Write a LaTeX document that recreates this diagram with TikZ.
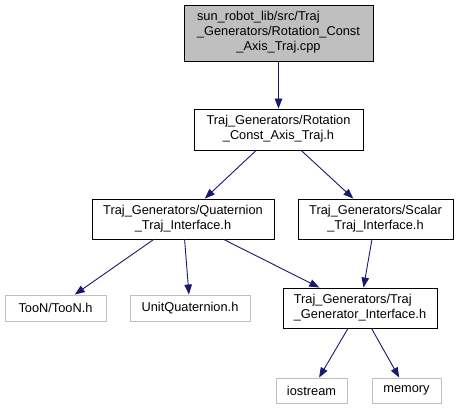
\documentclass[tikz,border=0pt]{standalone}
\usepackage{fontspec}
\setmainfont{Liberation Sans}
\usetikzlibrary{arrows.meta}
\definecolor{edgeblue}{HTML}{191970}
\definecolor{extborder}{HTML}{BFBFBF}
\definecolor{mainfill}{HTML}{BFBFBF}
\tikzset{
  filebox/.style={draw=black, line width=0.9pt, fill=white, inner sep=0pt, text=black,
    font=\fontsize{12.8}{15}\selectfont},
  extbox/.style={filebox, draw=extborder},
  mainbox/.style={filebox, fill=mainfill},
  dep/.style={draw=edgeblue, line width=0.9pt,
    -{Triangle[length=10pt,width=7.5pt,fill=edgeblue]}}
}
\begin{document}
\begin{tikzpicture}[x=1pt,y=-1pt]
\useasboundingbox (0,0) rectangle (459,409);
\node[mainbox, minimum width=189pt, minimum height=56pt] (top) at (278.5,33)
  {\begin{tabular}{@{}l@{}}sun\_robot\_lib/src/Traj\\\_Generators/Rotation\_Const\\\multicolumn{1}{@{}c@{}}{\_Axis\_Traj.cpp}\end{tabular}};
\node[filebox, minimum width=169pt, minimum height=41pt] (rot) at (278.5,129.5)
  {\begin{tabular}{@{}l@{}}Traj\_Generators/Rotation\\\multicolumn{1}{@{}c@{}}{\_Const\_Axis\_Traj.h}\end{tabular}};
\node[filebox, minimum width=182pt, minimum height=40pt] (quat) at (183,219)
  {\begin{tabular}{@{}l@{}}Traj\_Generators/Quaternion\\\multicolumn{1}{@{}c@{}}{\_Traj\_Interface.h}\end{tabular}};
\node[filebox, minimum width=155pt, minimum height=40pt] (scal) at (375.5,219)
  {\begin{tabular}{@{}l@{}}Traj\_Generators/Scalar\\\multicolumn{1}{@{}c@{}}{\_Traj\_Interface.h}\end{tabular}};
\node[filebox, minimum width=154pt, minimum height=40pt] (gen) at (360,308)
  {\begin{tabular}{@{}l@{}}Traj\_Generators/Traj\\\multicolumn{1}{@{}c@{}}{\_Generator\_Interface.h}\end{tabular}};
\node[extbox, minimum width=101pt, minimum height=26pt] (toon) at (55.5,308) {TooN/TooN.h};
\node[extbox, minimum width=120pt, minimum height=26pt] (uq) at (190,308) {UnitQuaternion.h};
\node[extbox, minimum width=71pt, minimum height=25pt] (ios) at (311.5,390.5) {iostream};
\node[extbox, minimum width=69pt, minimum height=25pt] (mem) at (406.5,390.5) {memory};
\draw[dep] (top) -- (rot);
\draw[dep] (rot) -- (quat);
\draw[dep] (rot) -- (scal);
\draw[dep] (quat) -- (toon);
\draw[dep] (quat) -- (uq);
\draw[dep] (quat) -- (gen);
\draw[dep] (scal) -- (gen);
\draw[dep] (gen) -- (ios);
\draw[dep] (gen) -- (mem);
\end{tikzpicture}
\end{document}
